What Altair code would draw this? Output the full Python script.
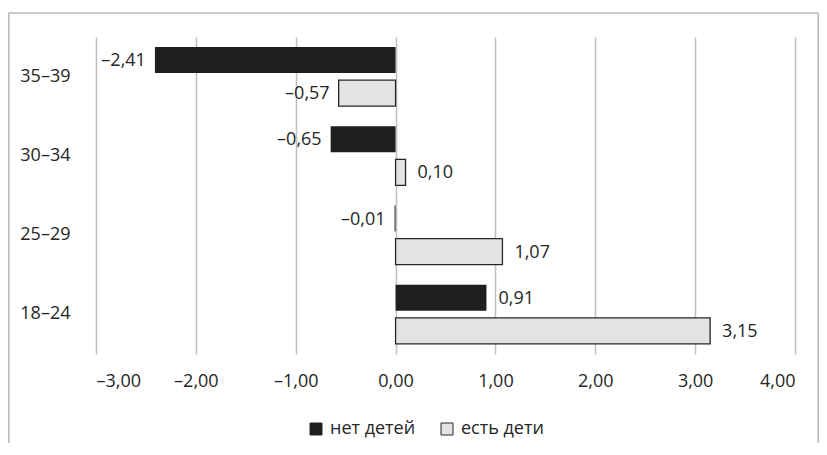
import altair as alt
import pandas as pd

ages = ["35–39", "30–34", "25–29", "18–24"]
series = ["нет детей", "есть дети"]
no_kids = [-2.41, -0.65, -0.01, 0.91]
with_kids = [-0.57, 0.10, 1.07, 3.15]
x_ticks = [-3, -2, -1, 0, 1, 2, 3, 4]

rows = []
for a, v in zip(ages, no_kids):
    rows.append({"age": a, "group": series[0], "value": v})
for a, v in zip(ages, with_kids):
    rows.append({"age": a, "group": series[1], "value": v})
df = pd.DataFrame(rows)

FONT = "Open Sans"
FS = 18
TXT = "#262626"
lbl_expr = "(datum.value < 0 ? '–' : '') + replace(format(abs(datum.value), '.2f'), '.', ',')"

base = alt.Chart(df).transform_calculate(lbl=lbl_expr)

y_enc = alt.Y("age:N", sort=ages, title=None,
              scale=alt.Scale(paddingInner=0, paddingOuter=0),
              axis=alt.Axis(ticks=False, domain=False, labelFontSize=FS, labelFont=FONT,
                            labelColor=TXT, labelPadding=26, grid=False))
yoff_enc = alt.YOffset("group:N", sort=series,
                       scale=alt.Scale(paddingInner=0.212, paddingOuter=0.303))

bars = base.mark_bar(stroke="#262626").encode(
    x=alt.X("value:Q", title=None,
            scale=alt.Scale(domain=[-3, 4], nice=False, zero=False),
            axis=alt.Axis(values=x_ticks, ticks=False, domain=False, grid=True,
                          gridColor="#c0c0c0", gridWidth=1.5,
                          labelExpr="(datum.value < 0 ? '–' : '') + replace(format(abs(datum.value), '.2f'), '.', ',')",
                          labelFontSize=FS, labelFont=FONT, labelColor=TXT,
                          labelPadding=18)),
    y=y_enc,
    yOffset=yoff_enc,
    strokeWidth=alt.condition("datum.group == 'есть дети'", alt.value(1.3), alt.value(0)),
    color=alt.Color("group:N", sort=series, title=None,
                    scale=alt.Scale(domain=series, range=["#1e1e1e", "#e3e3e3"]),
                    legend=alt.Legend(orient="none", legendX=211, legendY=383,
                                      direction="horizontal", symbolType="square",
                                      symbolSize=144, symbolStrokeColor="#262626",
                                      symbolStrokeWidth=1, labelFontSize=FS,
                                      labelFont=FONT, labelColor=TXT,
                                      columnPadding=22, labelOffset=5)),
)

neg_text = base.transform_filter("datum.value < 0").mark_text(
    align="right", baseline="middle", dx=-9, dy=1, fontSize=FS, font=FONT, color=TXT
).encode(x="value:Q", y=alt.Y("age:N", sort=ages), yOffset=yoff_enc, text="lbl:N")

pos_text = base.transform_filter("datum.value >= 0").mark_text(
    align="left", baseline="middle", dx=12, dy=1, fontSize=FS, font=FONT, color=TXT
).encode(x="value:Q", y=alt.Y("age:N", sort=ages), yOffset=yoff_enc, text="lbl:N")

one = pd.DataFrame({"k": [0]})
bc = "#b8b8b8"
border_l = alt.Chart(one).mark_rule(color=bc, strokeWidth=1.5).encode(
    x=alt.value(-87.2), y=alt.value(-24), y2=alt.value(420))
border_r = alt.Chart(one).mark_rule(color=bc, strokeWidth=1.5).encode(
    x=alt.value(722.2), y=alt.value(-24), y2=alt.value(420))
border_t = alt.Chart(one).mark_rule(color=bc, strokeWidth=1.5).encode(
    x=alt.value(-87.2), x2=alt.value(722.2), y=alt.value(-24))

chart = alt.layer(bars, neg_text, pos_text, border_l, border_r, border_t).properties(
    width=699, height=317,
    background="white",
    autosize=alt.AutoSizeParams(type="none"),
    padding={"left": 88, "top": 29, "right": 24, "bottom": 89},
).configure_view(
    strokeWidth=0, stroke="transparent"
).configure_axis(domain=False)

chart.save("out.html", embed_options={"renderer": "svg", "actions": False})
